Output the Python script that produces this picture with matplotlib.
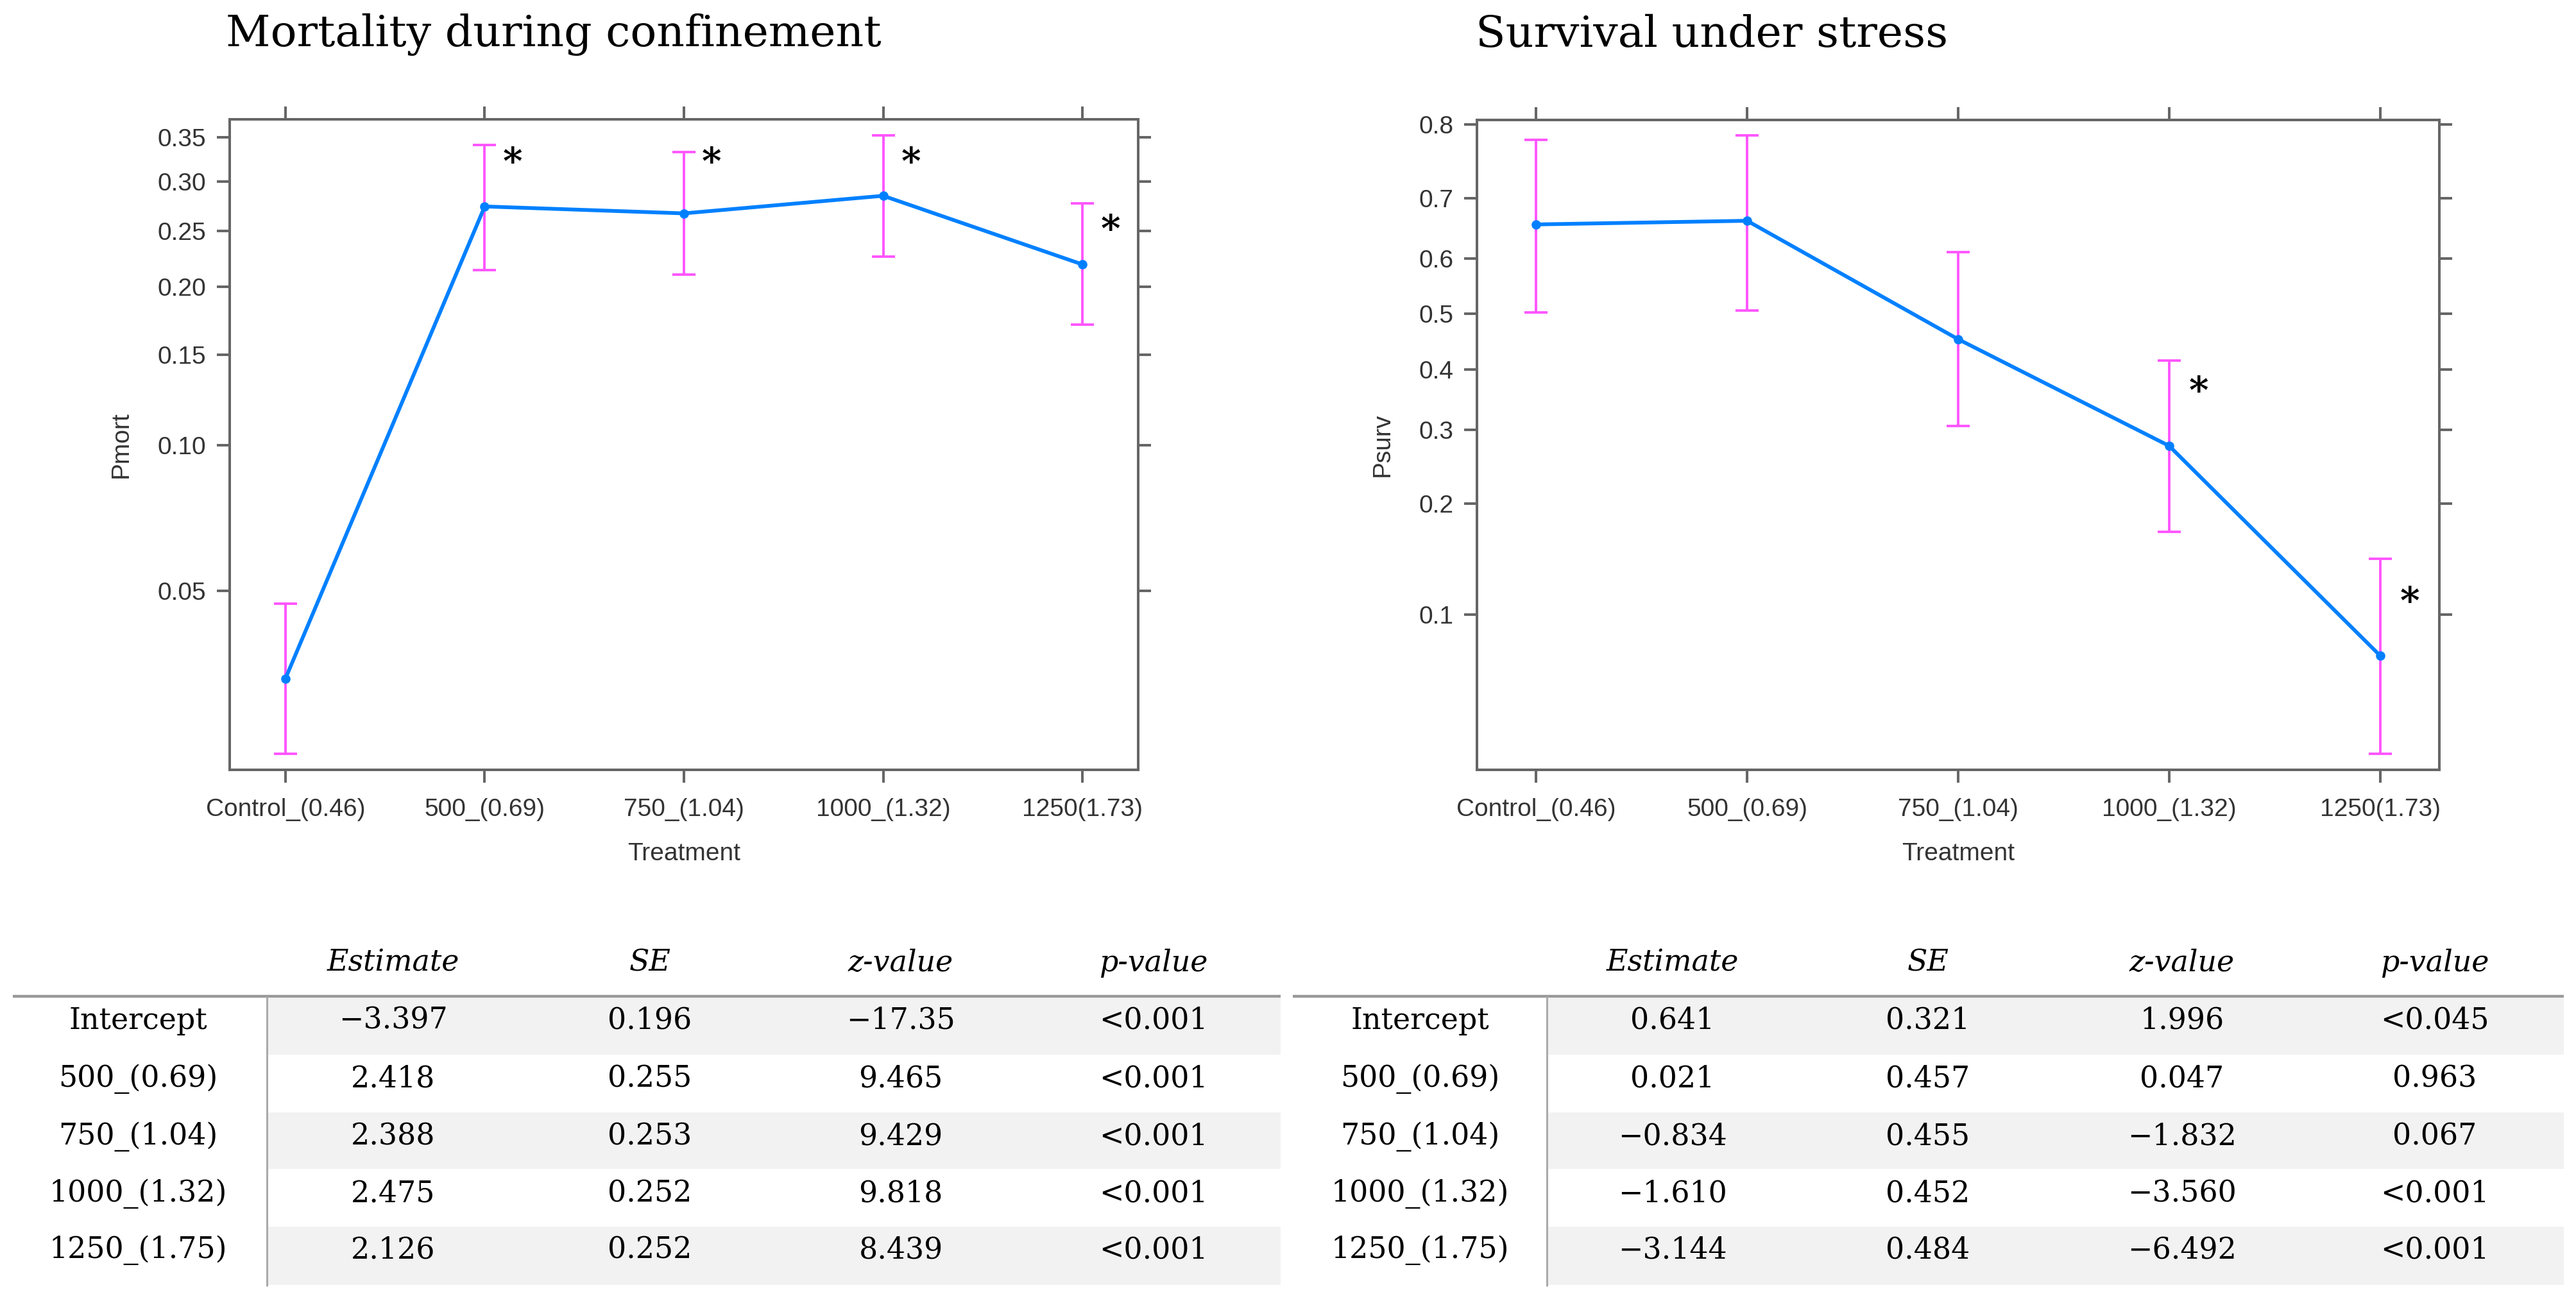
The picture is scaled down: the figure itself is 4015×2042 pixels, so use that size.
import matplotlib
matplotlib.use("Agg")
import matplotlib.pyplot as plt
from matplotlib.ticker import NullLocator, NullFormatter, FixedLocator, FixedFormatter
from matplotlib.patches import Rectangle

# Dados
treat = ["Control_(0.46)", "500_(0.69)", "750_(1.04)", "1000_(1.32)", "1250(1.73)"]

pmort = [0.0325, 0.274, 0.267, 0.285, 0.219]
pmort_lo = [0.0223, 0.214, 0.210, 0.226, 0.171]
pmort_hi = [0.0469, 0.341, 0.333, 0.352, 0.277]
mort_sig = [False, True, True, True, True]
mort_star_y = [None, 0.320, 0.320, 0.320, 0.250]

psurv = [0.658, 0.664, 0.454, 0.276, 0.0760]
psurv_lo = [0.503, 0.506, 0.306, 0.169, 0.0386]
psurv_hi = [0.781, 0.787, 0.611, 0.416, 0.143]
surv_sig = [False, False, False, True, True]
surv_star_y = [None, None, None, 0.360, 0.108]

mort_ticks = [0.05, 0.10, 0.15, 0.20, 0.25, 0.30, 0.35]
surv_ticks = [0.1, 0.2, 0.3, 0.4, 0.5, 0.6, 0.7, 0.8]

# Tabelas
col_names = ["Estimate", "SE", "z-value", "p-value"]
row_names = ["Intercept", "500_(0.69)", "750_(1.04)", "1000_(1.32)", "1250_(1.75)"]
mort_est = ["\u22123.397", "2.418", "2.388", "2.475", "2.126"]
mort_se = ["0.196", "0.255", "0.253", "0.252", "0.252"]
mort_z = ["\u221217.35", "9.465", "9.429", "9.818", "8.439"]
mort_p = ["<0.001", "<0.001", "<0.001", "<0.001", "<0.001"]
surv_est = ["0.641", "0.021", "\u22120.834", "\u22121.610", "\u22123.144"]
surv_se = ["0.321", "0.457", "0.455", "0.452", "0.484"]
surv_z = ["1.996", "0.047", "\u22121.832", "\u22123.560", "\u22126.492"]
surv_p = ["<0.045", "0.963", "0.067", "<0.001", "<0.001"]

W, H = 4015, 2042
DPI = 100
BLUE = "#0080ff"
PINK = "#ff55ff"
FRAME = "#666666"
TXT = "#333333"
SANS = "Liberation Sans"
SERIF = "DejaVu Serif"

fig = plt.figure(figsize=(W / DPI, H / DPI), dpi=DPI)


def grafico(rect, y, lo, hi, sig, star_y, ticks, fmt, ylabel, ylim, title, title_x):
    ax = fig.add_axes(rect)
    x = list(range(len(treat)))
    ax.plot(x, y, color=BLUE, lw=4.2, marker="o", ms=9.5, zorder=3)
    err = [[v - l for v, l in zip(y, lo)], [h - v for v, h in zip(y, hi)]]
    ax.errorbar(x, y, yerr=err, fmt="none", ecolor=PINK, elinewidth=2.8,
                capsize=13, capthick=2.8, zorder=2)
    # asteriscos de significancia
    for xi, s, sy in zip(x, sig, star_y):
        if s:
            ax.text(xi + 0.14, sy, "*", fontsize=42, family=SERIF, weight="bold",
                    ha="center", va="center", color="black")
    ax.set_yscale("logit")
    ax.set_ylim(*ylim)
    ax.set_xlim(-0.28, 4.28)
    ax.yaxis.set_major_locator(FixedLocator(ticks))
    ax.yaxis.set_major_formatter(FixedFormatter([fmt % t for t in ticks]))
    ax.yaxis.set_minor_locator(NullLocator())
    ax.yaxis.set_minor_formatter(NullFormatter())
    ax.set_xticks(x)
    ax.set_xticklabels(treat)
    for sp in ax.spines.values():
        sp.set_color(FRAME)
        sp.set_linewidth(2.9)
    ax.tick_params(axis="both", direction="out", length=14.4, width=2.9,
                   color=FRAME, labelcolor=TXT, labelsize=28,
                   top=True, right=True)
    ax.tick_params(axis="x", pad=17)
    ax.tick_params(axis="y", pad=12)
    for lab in ax.get_xticklabels() + ax.get_yticklabels():
        lab.set_family(SANS)
    ax.set_xlabel("Treatment", fontsize=28, family=SANS, color=TXT, labelpad=24)
    ax.set_ylabel(ylabel, fontsize=28, family=SANS, color=TXT, labelpad=28)
    fig.text(title_x, 1 - 54 / H, title, fontsize=49, family=SERIF,
             ha="left", va="center", color="black")
    return ax


grafico([358 / W, 1 - 1200 / H, (1774 - 358) / W, (1200 - 186) / H],
        pmort, pmort_lo, pmort_hi, mort_sig, mort_star_y, mort_ticks, "%.2f",
        "Pmort", (0.0206, 0.371), "Mortality during confinement", 352 / W)
grafico([2302 / W, 1 - 1200 / H, (3802 - 2302) / W, (1200 - 187) / H],
        psurv, psurv_lo, psurv_hi, surv_sig, surv_star_y, surv_ticks, "%.1f",
        "Psurv", (0.0345, 0.805), "Survival under stress", 2300 / W)

# Tabelas em coordenadas de pixel
tab = fig.add_axes([0, 0, 1, 1])
tab.set_xlim(0, W)
tab.set_ylim(H, 0)
tab.axis("off")

row_edges = [1556, 1644, 1734, 1822, 1912, 2003]
row_text_y = [1591, 1682, 1772, 1861, 1949]


def tabela(x0, xsep, x1, xlab, xcols, cols):
    for i in range(len(row_names)):
        if i % 2 == 0:
            tab.add_patch(Rectangle((xsep, row_edges[i]), x1 - xsep,
                                    row_edges[i + 1] - row_edges[i],
                                    facecolor="#f2f2f2", edgecolor="none"))
    tab.plot([x0, x1], [1553, 1553], color="#999999", lw=3.2,
             solid_capstyle="butt")
    tab.plot([xsep, xsep], [1553, 2005], color="#aaaaaa", lw=2.2,
             solid_capstyle="butt")
    for cx, name in zip(xcols, col_names):
        tab.text(cx, 1501, name, fontsize=33, family=SERIF, style="italic",
                 ha="center", va="center", color="black")
    for i, rn in enumerate(row_names):
        tab.text(xlab, row_text_y[i], rn, fontsize=33, family=SERIF,
                 ha="center", va="center", color="black")
        for cx, col in zip(xcols, cols):
            tab.text(cx, row_text_y[i], col[i], fontsize=33, family=SERIF,
                     ha="center", va="center", color="black")


tabela(20, 416, 1996, 215, [613, 1013, 1404, 1798],
       [mort_est, mort_se, mort_z, mort_p])
tabela(2015, 2411, 3996, 2213, [2607, 3005, 3401, 3795],
       [surv_est, surv_se, surv_z, surv_p])

fig.savefig("out.png", dpi=DPI)
